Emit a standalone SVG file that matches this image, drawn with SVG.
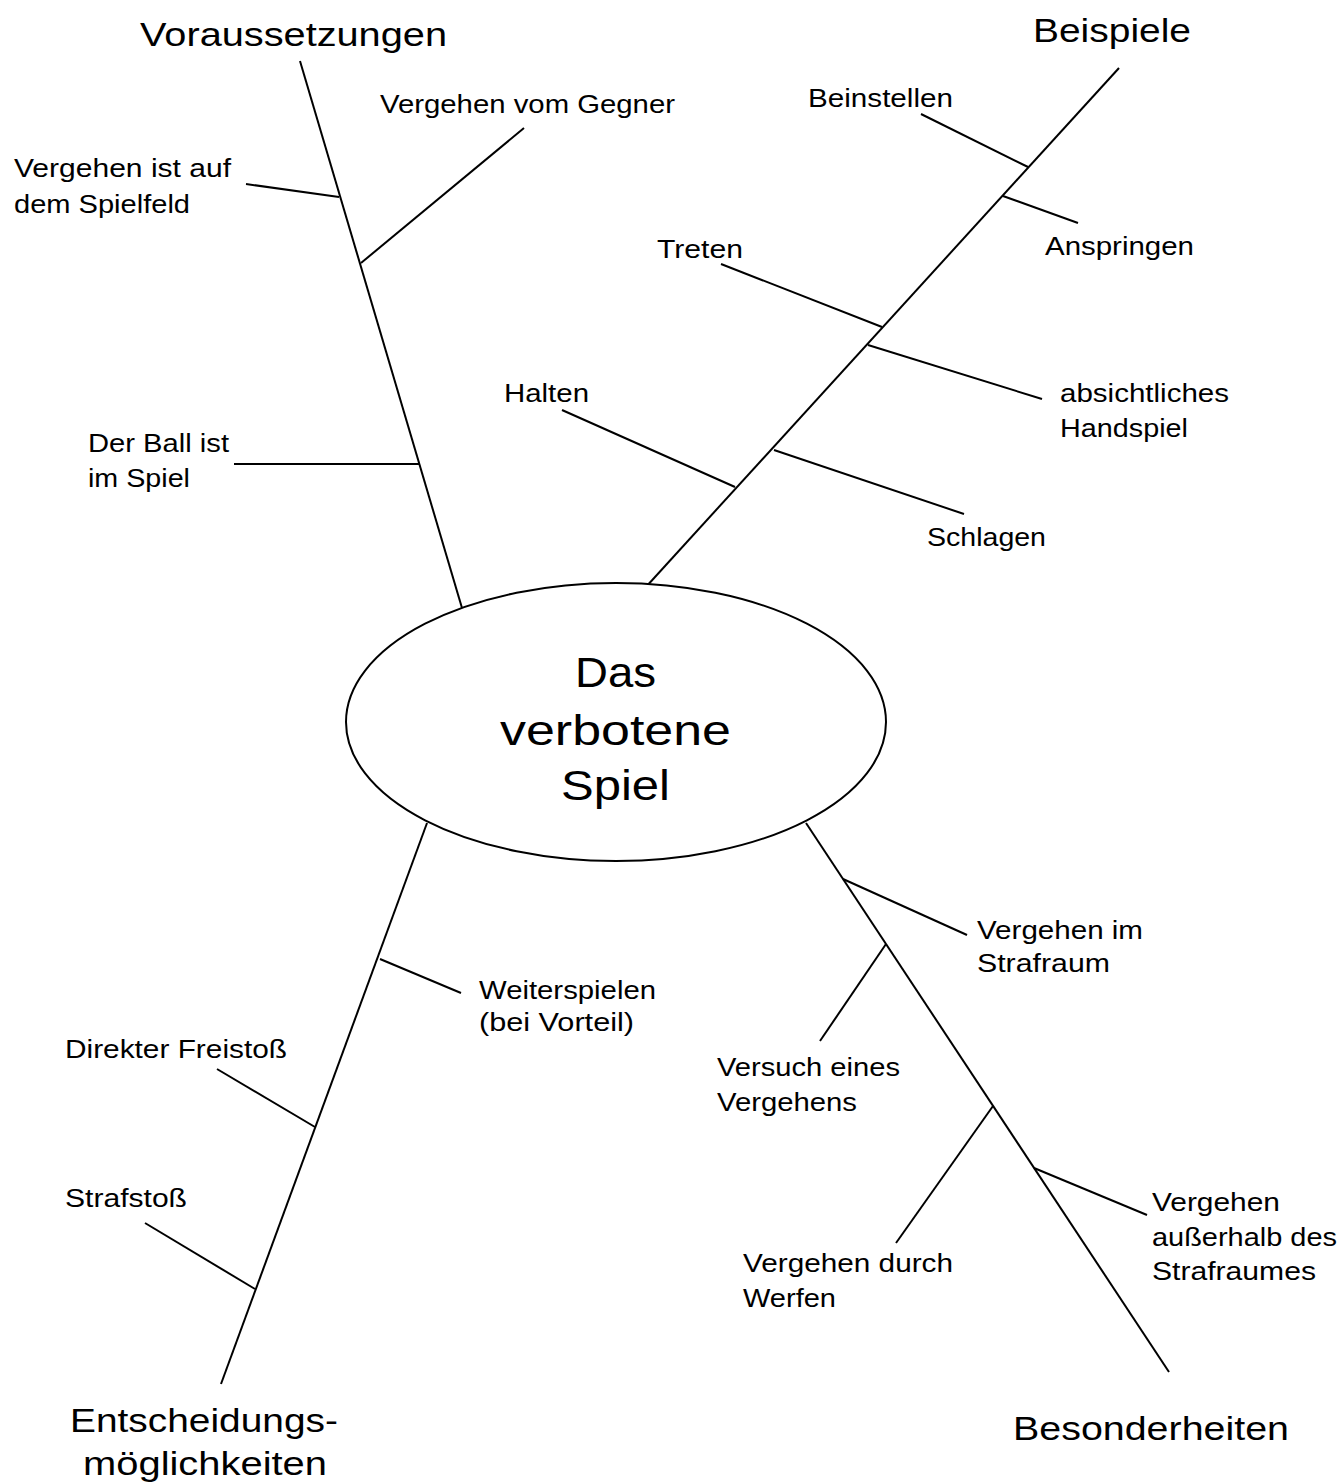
<svg xmlns="http://www.w3.org/2000/svg" width="1343" height="1484" viewBox="0 0 1343 1484">
<style>
text{font-family:"Liberation Sans","DejaVu Sans",sans-serif;fill:#000}
.l{font-size:26px}
.h{font-size:33px}
.c{font-size:42px}
line{stroke:#000;stroke-width:2;stroke-linecap:butt}
</style>
<rect width="1343" height="1484" fill="#fff"/>
<g id="connectors">
<line x1="300" y1="61" x2="462" y2="608"/>
<line x1="246" y1="184" x2="339" y2="197"/>
<line x1="524" y1="128" x2="361" y2="263"/>
<line x1="234" y1="464" x2="420" y2="464"/>
<line x1="1119" y1="68" x2="645" y2="588"/>
<line x1="921" y1="114" x2="1028" y2="167"/>
<line x1="1003" y1="196" x2="1078" y2="223"/>
<line x1="721" y1="264" x2="882" y2="327"/>
<line x1="868" y1="345" x2="1042" y2="399"/>
<line x1="562" y1="410" x2="735" y2="487"/>
<line x1="774" y1="450" x2="964" y2="514"/>
<line x1="427" y1="823" x2="221" y2="1384"/>
<line x1="380" y1="959" x2="461" y2="993"/>
<line x1="217" y1="1069" x2="315" y2="1127"/>
<line x1="145" y1="1223" x2="255" y2="1289"/>
<line x1="806" y1="823" x2="1169" y2="1372"/>
<line x1="843" y1="879" x2="967" y2="935"/>
<line x1="886" y1="944" x2="820" y2="1041"/>
<line x1="993" y1="1106" x2="896" y2="1243"/>
<line x1="1034" y1="1168" x2="1147" y2="1215"/>
</g>
<g id="center">
<ellipse cx="616" cy="722" rx="270" ry="139" fill="#fff" stroke="#000" stroke-width="2"/>
<text class="c" x="575" y="687" textLength="81" lengthAdjust="spacingAndGlyphs">Das</text>
<text class="c" x="500" y="745" textLength="231" lengthAdjust="spacingAndGlyphs">verbotene</text>
<text class="c" x="561" y="800" textLength="109" lengthAdjust="spacingAndGlyphs">Spiel</text>
</g>
<g id="voraussetzungen">
<text class="h" x="140" y="46" textLength="307" lengthAdjust="spacingAndGlyphs">Voraussetzungen</text>
</g>
<g id="vergehen-spielfeld">
<text class="l" x="14" y="177" textLength="217" lengthAdjust="spacingAndGlyphs">Vergehen ist auf</text>
<text class="l" x="14" y="213" textLength="176" lengthAdjust="spacingAndGlyphs">dem Spielfeld</text>
</g>
<g id="vergehen-gegner">
<text class="l" x="380" y="113" textLength="295" lengthAdjust="spacingAndGlyphs">Vergehen vom Gegner</text>
</g>
<g id="ball-im-spiel">
<text class="l" x="88" y="452" textLength="141" lengthAdjust="spacingAndGlyphs">Der Ball ist</text>
<text class="l" x="88" y="487" textLength="102" lengthAdjust="spacingAndGlyphs">im Spiel</text>
</g>
<g id="beispiele">
<text class="h" x="1033" y="42" textLength="158" lengthAdjust="spacingAndGlyphs">Beispiele</text>
</g>
<g id="beinstellen">
<text class="l" x="808" y="107" textLength="145" lengthAdjust="spacingAndGlyphs">Beinstellen</text>
</g>
<g id="anspringen">
<text class="l" x="1045" y="255" textLength="149" lengthAdjust="spacingAndGlyphs">Anspringen</text>
</g>
<g id="treten">
<text class="l" x="657" y="258" textLength="86" lengthAdjust="spacingAndGlyphs">Treten</text>
</g>
<g id="handspiel">
<text class="l" x="1060" y="402" textLength="169" lengthAdjust="spacingAndGlyphs">absichtliches</text>
<text class="l" x="1060" y="437" textLength="128" lengthAdjust="spacingAndGlyphs">Handspiel</text>
</g>
<g id="halten">
<text class="l" x="504" y="402" textLength="85" lengthAdjust="spacingAndGlyphs">Halten</text>
</g>
<g id="schlagen">
<text class="l" x="927" y="546" textLength="119" lengthAdjust="spacingAndGlyphs">Schlagen</text>
</g>
<g id="entscheidung">
<text class="h" x="70" y="1432" textLength="268" lengthAdjust="spacingAndGlyphs">Entscheidungs-</text>
<text class="h" x="83" y="1475" textLength="244" lengthAdjust="spacingAndGlyphs">möglichkeiten</text>
</g>
<g id="weiterspielen">
<text class="l" x="479" y="999" textLength="177" lengthAdjust="spacingAndGlyphs">Weiterspielen</text>
<text class="l" x="479" y="1031" textLength="155" lengthAdjust="spacingAndGlyphs">(bei Vorteil)</text>
</g>
<g id="freistoss">
<text class="l" x="65" y="1058" textLength="222" lengthAdjust="spacingAndGlyphs">Direkter Freistoß</text>
</g>
<g id="strafstoss">
<text class="l" x="65" y="1207" textLength="122" lengthAdjust="spacingAndGlyphs">Strafstoß</text>
</g>
<g id="besonderheiten">
<text class="h" x="1013" y="1440" textLength="276" lengthAdjust="spacingAndGlyphs">Besonderheiten</text>
</g>
<g id="strafraum">
<text class="l" x="977" y="939" textLength="166" lengthAdjust="spacingAndGlyphs">Vergehen im</text>
<text class="l" x="977" y="972" textLength="133" lengthAdjust="spacingAndGlyphs">Strafraum</text>
</g>
<g id="versuch">
<text class="l" x="717" y="1076" textLength="183" lengthAdjust="spacingAndGlyphs">Versuch eines</text>
<text class="l" x="717" y="1111" textLength="140" lengthAdjust="spacingAndGlyphs">Vergehens</text>
</g>
<g id="werfen">
<text class="l" x="743" y="1272" textLength="210" lengthAdjust="spacingAndGlyphs">Vergehen durch</text>
<text class="l" x="743" y="1307" textLength="93" lengthAdjust="spacingAndGlyphs">Werfen</text>
</g>
<g id="ausserhalb">
<text class="l" x="1152" y="1211" textLength="128" lengthAdjust="spacingAndGlyphs">Vergehen</text>
<text class="l" x="1152" y="1246" textLength="185" lengthAdjust="spacingAndGlyphs">außerhalb des</text>
<text class="l" x="1152" y="1280" textLength="164" lengthAdjust="spacingAndGlyphs">Strafraumes</text>
</g>
</svg>
